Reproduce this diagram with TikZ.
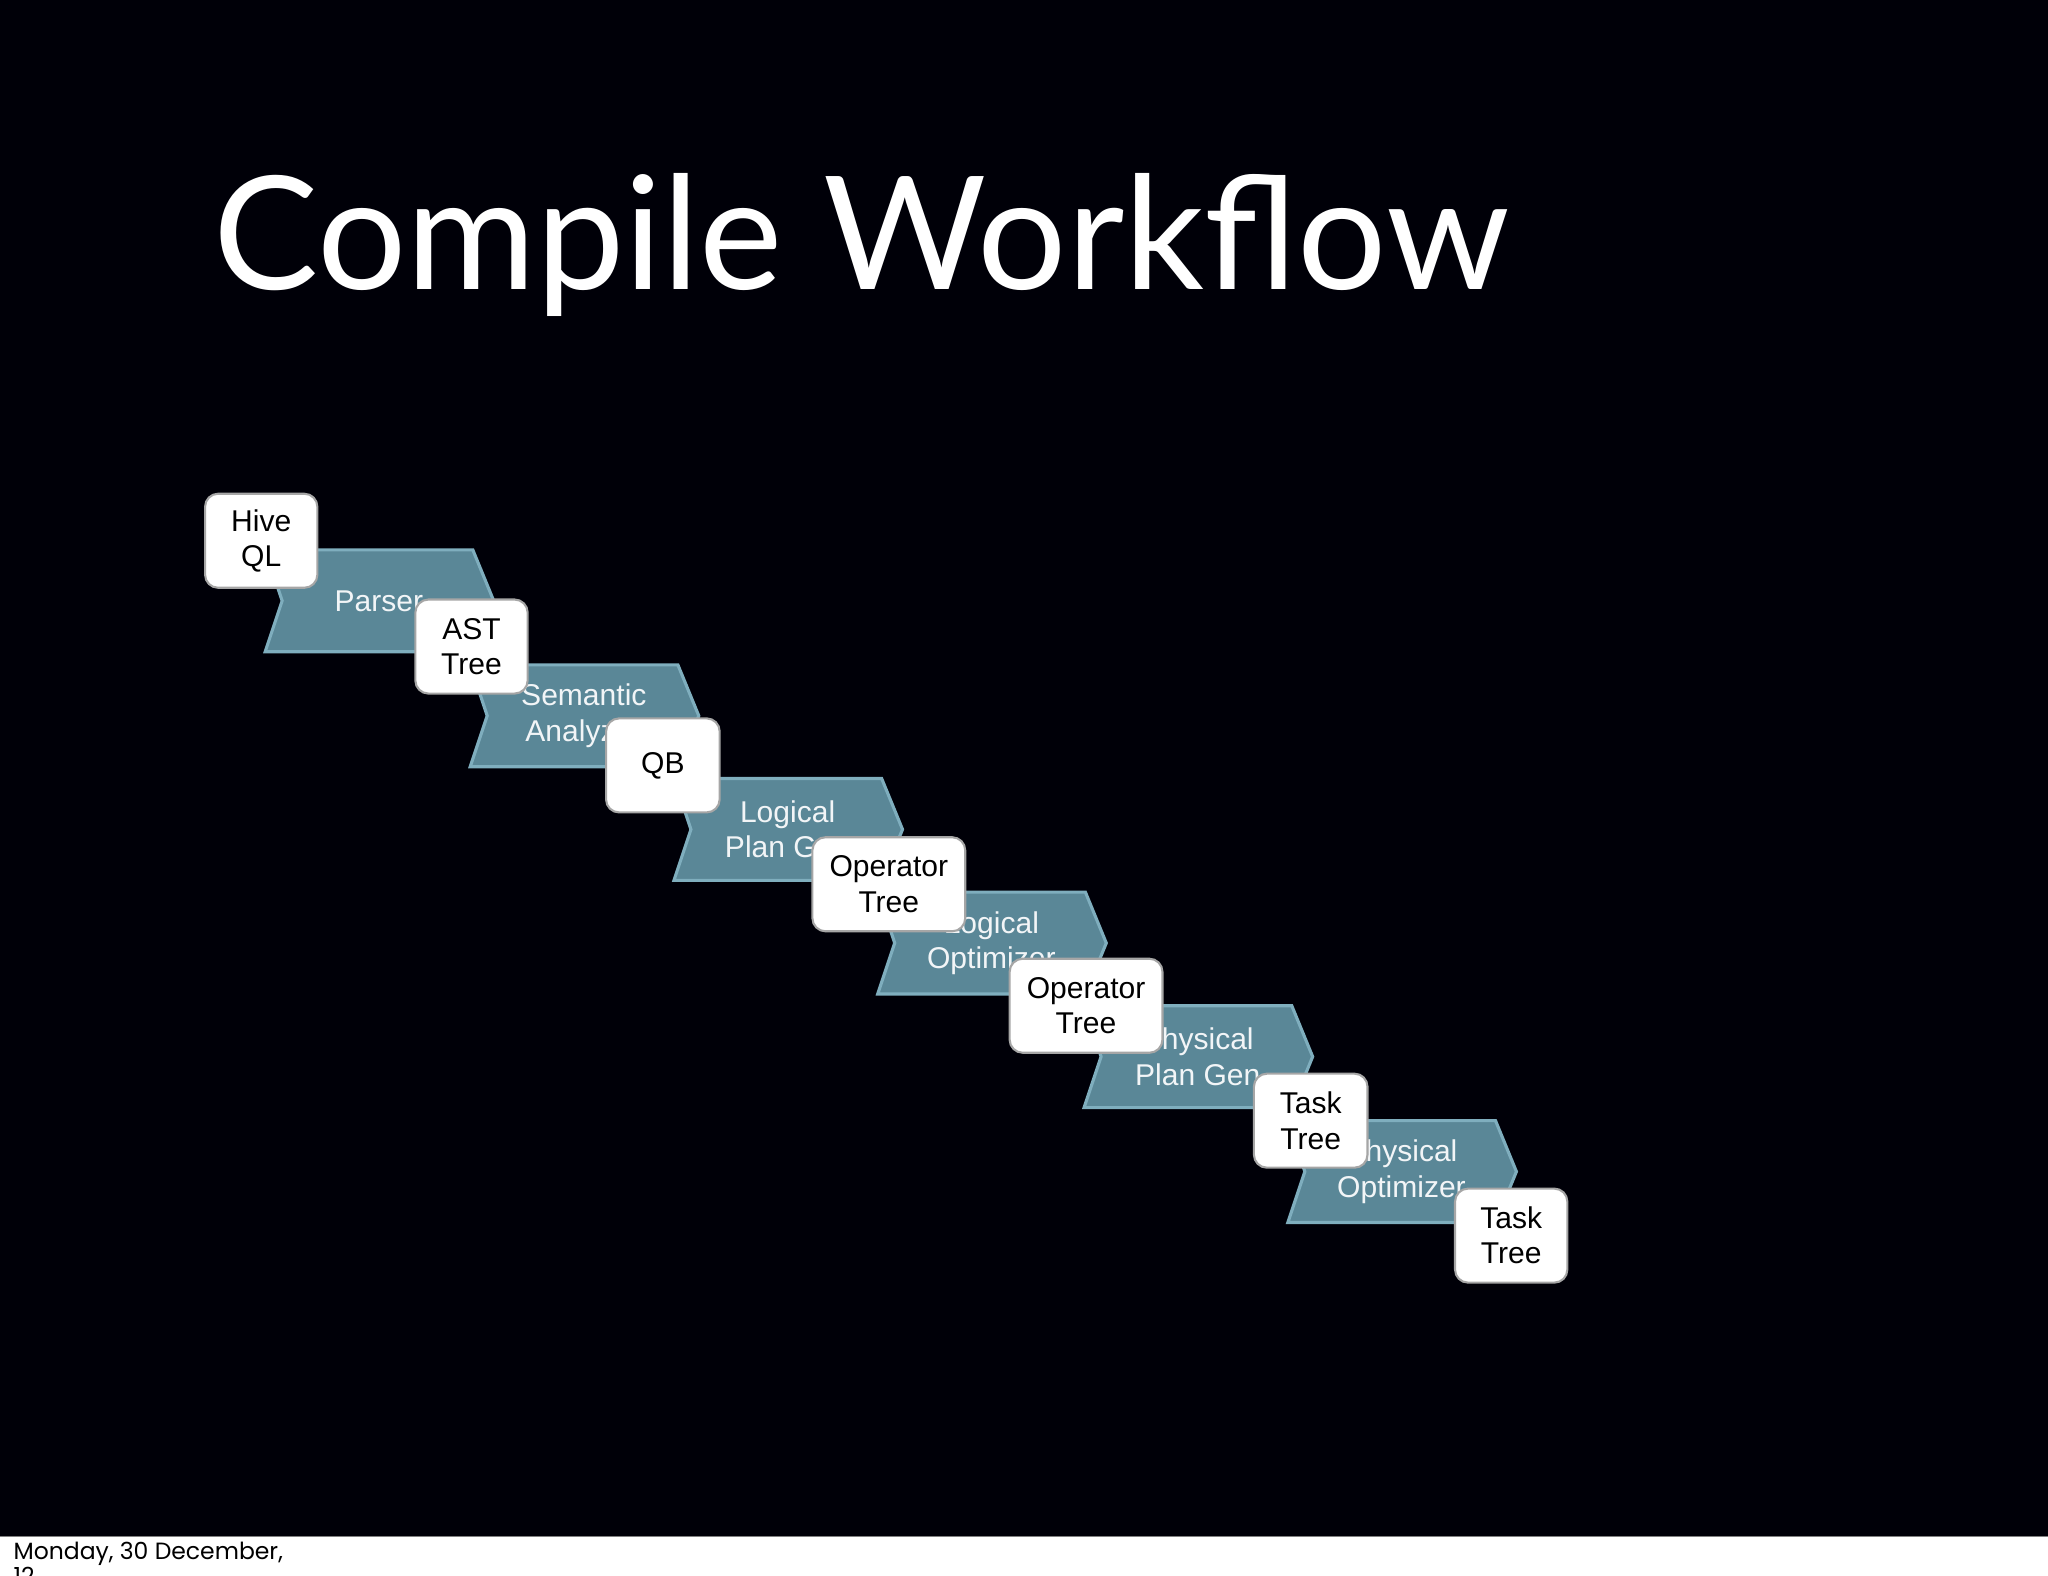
\documentclass[tikz,border=0pt]{standalone}
\usepackage{fontspec}
\setmainfont{Liberation Sans}
\newfontfamily\titlefont{Lato}
\newfontfamily\footfont{Poppins}
\definecolor{chev}{HTML}{5A8797}
\definecolor{chevline}{HTML}{7FAEBE}
\tikzset{
  chevshape/.style={fill=chev,draw=chevline,line width=1.2pt,line join=miter},
  chevlabel/.style={text=white!92!chev,font=\fontsize{11.5}{13.5}\selectfont,align=center},
  databox/.style={fill=white,draw=gray!70,line width=0.8pt,rounded corners=5pt,align=center,
    font=\fontsize{11.5}{13.5}\selectfont,inner sep=0pt},
}
\newcommand{\chevron}[3]{%
  \fill[chevshape] (#1,#2) -- ++(13,-39) -- ++(-13,-39) -- ++(159,0) -- ++(16,39) -- ++(-16,39) -- cycle;
  \node[chevlabel] at (#1+87,#2-39) {#3};}
\begin{document}
\begin{tikzpicture}[x=0.5pt,y=-0.5pt]
\useasboundingbox (0,0) rectangle (1568,1206.6);
\clip (0,0) rectangle (1568,1206.6);
\fill[white] (0,0) rectangle (1568,1206.6);
\fill[black!97!blue] (0,0) rectangle (1568,1176);
\draw[gray,line width=0.6pt] (0,1176.5) -- (1568,1176.5);
\node[anchor=base west,inner sep=0pt,text=white] (title) at (163,222)
  {\resizebox{496pt}{!}{\titlefont Compile Workflow}};
\chevron{203}{499}{Parser}
\chevron{360}{587}{Semantic\\Analyzer}
\chevron{516}{674}{Logical\\Plan Gen}
\chevron{672}{761}{Logical\\Optimizer}
\chevron{830}{848}{Physical\\Plan Gen}
\chevron{986}{936}{Physical\\Optimizer}
\node[databox,minimum width=43pt,minimum height=36pt] (hive) at (200,414) {Hive\\QL};
\node[databox,minimum width=43pt,minimum height=36pt] (ast) at (361,495) {AST\\Tree};
\node[databox,minimum width=43.5pt,minimum height=36pt] (qb) at (507.5,586) {QB};
\node[databox,minimum width=58.5pt,minimum height=36pt] (op1) at (680.5,677) {Operator\\Tree};
\node[databox,minimum width=58.5pt,minimum height=36pt] (op2) at (831.5,770) {Operator\\Tree};
\node[databox,minimum width=43.5pt,minimum height=36pt] (task1) at (1003.5,858) {Task\\Tree};
\node[databox,minimum width=43pt,minimum height=36pt] (task2) at (1157,946) {Task\\Tree};
\node[anchor=base west,inner sep=0pt,font=\footfont\fontsize{9}{10}\selectfont] (foot) at (10,1194) {Monday, 30 December,};
\node[anchor=base west,inner sep=0pt,font=\footfont\fontsize{9}{10}\selectfont] (foot2) at (10,1213) {12};
\end{tikzpicture}
\end{document}
